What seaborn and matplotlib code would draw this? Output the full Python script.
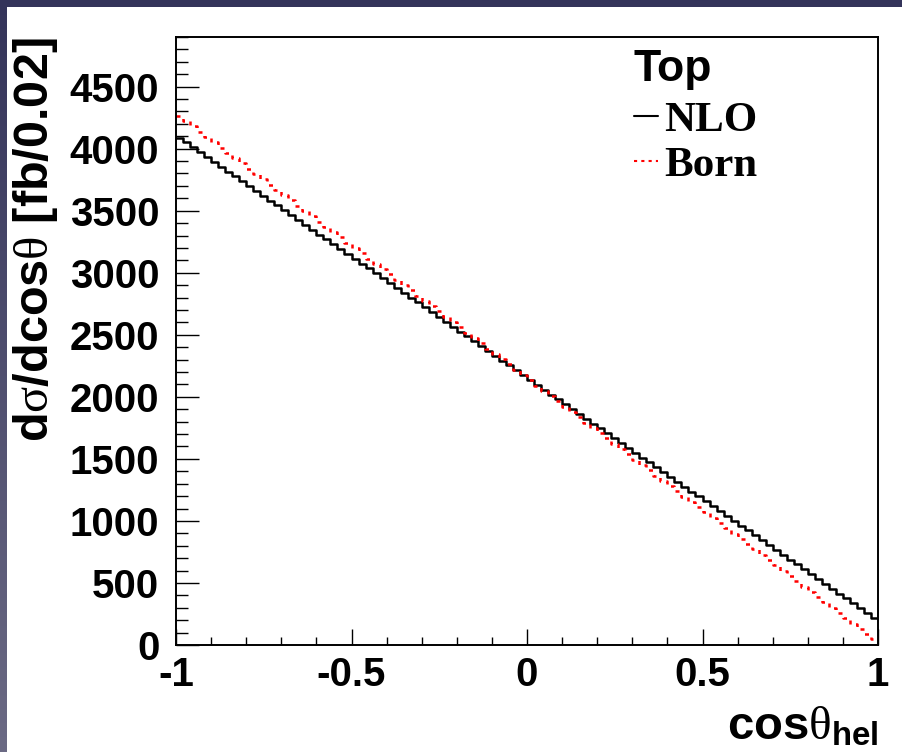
import numpy as np
import pandas as pd
import matplotlib
matplotlib.use("Agg")
import matplotlib.pyplot as plt
from matplotlib.lines import Line2D
from matplotlib.patches import Rectangle
from matplotlib.ticker import MultipleLocator
from matplotlib.colors import LinearSegmentedColormap
import seaborn as sns

# cos(theta_hel) distribution of the top quark, 100 bins of width 0.02 on [-1, 1]
x_min, x_max, n_bins = -1.0, 1.0, 100

nlo = [
    4090, 4051, 4012, 3973, 3934, 3895, 3855, 3816, 3777, 3738,
    3699, 3660, 3621, 3582, 3543, 3504, 3465, 3425, 3386, 3347,
    3308, 3269, 3230, 3191, 3152, 3113, 3074, 3035, 2995, 2956,
    2917, 2878, 2839, 2800, 2761, 2722, 2683, 2644, 2605, 2565,
    2526, 2487, 2448, 2409, 2370, 2331, 2292, 2253, 2214, 2175,
    2135, 2096, 2057, 2018, 1979, 1940, 1901, 1862, 1823, 1784,
    1745, 1705, 1666, 1627, 1588, 1549, 1510, 1471, 1432, 1393,
    1354, 1315, 1275, 1236, 1197, 1158, 1119, 1080, 1041, 1002,
    963, 924, 885, 845, 806, 767, 728, 689, 650, 611,
    572, 533, 494, 455, 415, 376, 337, 298, 259, 220,
]

born = [
    4265, 4222, 4180, 4137, 4095, 4052, 4009, 3967, 3924, 3881,
    3839, 3796, 3754, 3711, 3668, 3626, 3583, 3540, 3498, 3455,
    3412, 3370, 3327, 3285, 3242, 3199, 3157, 3114, 3071, 3029,
    2986, 2944, 2901, 2858, 2816, 2773, 2730, 2688, 2645, 2603,
    2560, 2517, 2475, 2432, 2389, 2347, 2304, 2261, 2219, 2176,
    2134, 2091, 2048, 2006, 1963, 1920, 1878, 1835, 1793, 1750,
    1707, 1665, 1622, 1579, 1537, 1494, 1452, 1409, 1366, 1324,
    1281, 1238, 1196, 1153, 1111, 1068, 1025, 983, 940, 897,
    855, 812, 770, 727, 684, 642, 599, 556, 514, 471,
    428, 386, 343, 301, 258, 215, 173, 130, 87, 45,
]

x_ticks = [-1, -0.5, 0, 0.5, 1]
x_tick_labels = ["-1", "-0.5", "0", "0.5", "1"]
y_ticks = [0, 500, 1000, 1500, 2000, 2500, 3000, 3500, 4000, 4500]
y_max = 4900

sns.set_style("ticks")
plt.rcParams["font.family"] = ["Liberation Sans", "DejaVu Sans"]
plt.rcParams["font.weight"] = "bold"
plt.rcParams["mathtext.fontset"] = "custom"
plt.rcParams["mathtext.rm"] = "Liberation Sans:bold"
plt.rcParams["mathtext.bf"] = "Liberation Sans:bold"
plt.rcParams["mathtext.it"] = "Liberation Serif:normal"
plt.rcParams["text.color"] = "black"
plt.rcParams["axes.labelcolor"] = "black"
plt.rcParams["xtick.color"] = "black"
plt.rcParams["ytick.color"] = "black"

edges = np.linspace(x_min, x_max, n_bins + 1)
centers = 0.5 * (edges[:-1] + edges[1:])
df = pd.DataFrame({"cos": centers, "NLO": nlo, "Born": born})

fig = plt.figure(figsize=(9.02, 7.52), dpi=100)

# slide-style backdrop: dark gradient frame with a white page
bg = fig.add_axes([0, 0, 1, 1], zorder=-10)
cmap = LinearSegmentedColormap.from_list("frame", ["#34345a", "#6b6a84"])
bg.imshow(np.linspace(0, 1, 256).reshape(-1, 1), aspect="auto", cmap=cmap,
          extent=[0, 1, 0, 1], origin="upper")
bg.add_patch(Rectangle((7 / 902, 0), 1, 745 / 752, transform=bg.transAxes,
                       facecolor="white", edgecolor="none"))
bg.set_xlim(0, 1)
bg.set_ylim(0, 1)
bg.axis("off")

ax = fig.add_axes([176 / 902, 107 / 752, 702 / 902, 608 / 752])
ax.set_facecolor("white")

sns.histplot(data=df, x="cos", weights="NLO", bins=n_bins, binrange=(x_min, x_max),
             element="step", fill=False, color="black", linewidth=1.8, ax=ax)
sns.histplot(data=df, x="cos", weights="Born", bins=n_bins, binrange=(x_min, x_max),
             element="step", fill=False, color="red", linewidth=1.8,
             linestyle=(0, (1.6, 2.2)), ax=ax)

ax.set_xlim(x_min, x_max)
ax.set_ylim(0, y_max)
ax.set_xticks(x_ticks)
ax.set_xticklabels(x_tick_labels)
ax.set_yticks(y_ticks)
ax.xaxis.set_minor_locator(MultipleLocator(0.1))
ax.yaxis.set_minor_locator(MultipleLocator(100))

ax.tick_params(axis="both", which="both", direction="in", width=1.0,
               top=False, right=False, labelsize=29, colors="black")
ax.tick_params(axis="y", which="major", length=16.5, pad=12)
ax.tick_params(axis="y", which="minor", length=8.6)
ax.tick_params(axis="x", which="major", length=11.5, pad=8)
ax.tick_params(axis="x", which="minor", length=5.8)
for lab in ax.get_xticklabels() + ax.get_yticklabels():
    lab.set_fontweight("bold")
    lab.set_color("black")

for sp in ax.spines.values():
    sp.set_linewidth(1.4)
    sp.set_color("black")

ax.set_xlabel(r"$\mathrm{cos}\mathit{\theta}_{\mathrm{hel}}$", fontsize=34,
              loc="right", color="black")
ax.set_ylabel(r"$\mathrm{d}\mathit{\sigma}\mathrm{/dcos}\mathit{\theta}\ \mathrm{[fb/0.02]}$",
              fontsize=35, loc="top", color="black")
ax.xaxis.set_label_coords(1.0, -0.10)
ax.yaxis.set_label_coords(-0.165, 1.0)

handles = [
    Line2D([], [], color="black", linewidth=1.5),
    Line2D([], [], color="red", linewidth=1.5, linestyle=(0, (1.5, 2.0))),
]
leg = ax.legend(handles, ["NLO", "Born"], title="Top", loc="upper left",
                bbox_to_anchor=(0.64, 0.995), frameon=False,
                handlelength=0.55, handletextpad=0.15, labelspacing=0.15,
                borderpad=0.2, borderaxespad=0.0,
                prop={"family": "Liberation Serif", "weight": "bold", "size": 31},
                title_fontproperties={"family": "Liberation Sans", "weight": "bold",
                                      "size": 32},
                alignment="left")
leg.get_title().set_color("black")
leg._legend_box.sep = 8
for t in leg.get_texts():
    t.set_color("black")

fig.savefig("out.png", dpi=100)
